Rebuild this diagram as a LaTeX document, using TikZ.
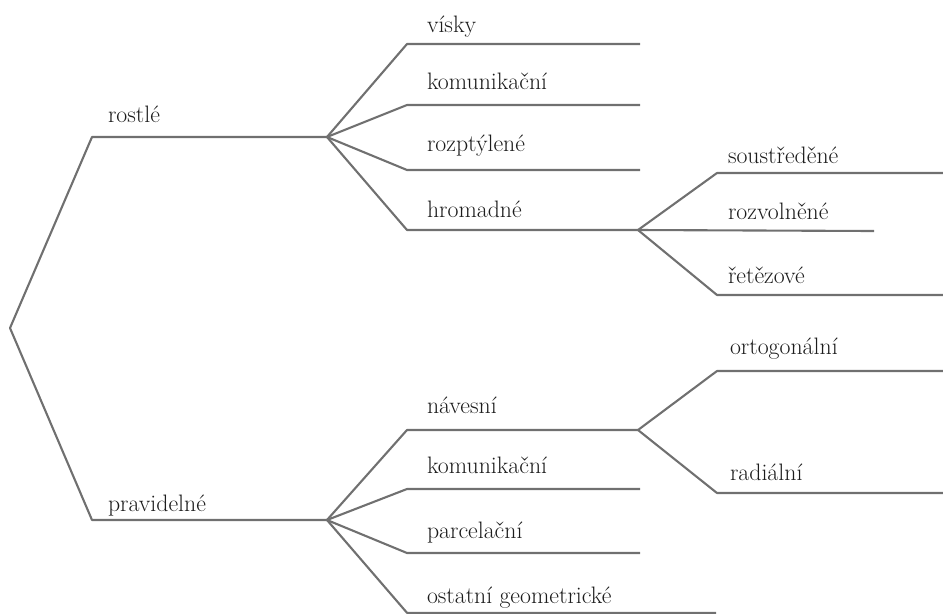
\documentclass[tikz,border=0pt]{standalone}
\usepackage{fontspec}
\definecolor{linegray}{HTML}{707070}
\definecolor{textdark}{HTML}{1C1C1C}
\tikzset{
  branch/.style={draw=linegray, line width=2.1pt, line join=round, line cap=butt},
  lbl/.style={anchor=base west, inner sep=0pt, outer sep=0pt, text=textdark, font=\fontsize{23.8}{28}\selectfont}
}
\begin{document}
\begin{tikzpicture}[x=1pt,y=-1pt]
\useasboundingbox (0,0) rectangle (943,614);
% junctions and line ends
\coordinate (root) at (10,328);
\coordinate (r1) at (92,137);   \coordinate (r2) at (327,137);
\coordinate (p1) at (92,520);   \coordinate (p2) at (327,520);
\coordinate (v1) at (407,44);   \coordinate (v2) at (640,44);
\coordinate (k1) at (407,105);  \coordinate (k2) at (640,105);
\coordinate (z1) at (407,170);  \coordinate (z2) at (640,170);
\coordinate (h1) at (407,230);  \coordinate (h2) at (638,230);
\coordinate (s1) at (717,173);  \coordinate (s2) at (945,173);
\coordinate (rv) at (874,231);
\coordinate (t1) at (717,295);  \coordinate (t2) at (945,295);
\coordinate (n1) at (407,430);  \coordinate (n2) at (638,430);
\coordinate (k3) at (407,489);  \coordinate (k4) at (640,489);
\coordinate (c1) at (407,553);  \coordinate (c2) at (640,553);
\coordinate (o1) at (407,612.8);\coordinate (o2) at (716,612.8);
\coordinate (or1) at (717,371); \coordinate (or2) at (945,371);
\coordinate (ra1) at (717,493); \coordinate (ra2) at (945,493);
% connectors
\draw[branch] (r2) -- (r1) -- (root) -- (p1) -- (p2);
\draw[branch] (r2) -- (v1) -- (v2);
\draw[branch] (r2) -- (k1) -- (k2);
\draw[branch] (r2) -- (z1) -- (z2);
\draw[branch] (r2) -- (h1) -- (h2);
\draw[branch] (h2) -- (s1) -- (s2);
\draw[branch] (h2) -- (rv);
\draw[branch] (h2) -- (t1) -- (t2);
\draw[branch] (p2) -- (n1) -- (n2);
\draw[branch] (p2) -- (k3) -- (k4);
\draw[branch] (p2) -- (c1) -- (c2);
\draw[branch] (p2) -- (o1) -- (o2);
\draw[branch] (n2) -- (or1) -- (or2);
\draw[branch] (n2) -- (ra1) -- (ra2);
% labels
\node[lbl] (lrostle) at (108,122) {rostlé};
\node[lbl] (lvisky) at (427,32) {vísky};
\node[lbl] (lkom1) at (427,89) {komunikační};
\node[lbl] (lrozpt) at (427,151) {rozptýlené};
\node[lbl] (lhrom) at (427,217) {hromadné};
\node[lbl] (lsoust) at (728,163) {soustředěné};
\node[lbl] (lrozv) at (728,219) {rozvolněné};
\node[lbl] (lret) at (728,283) {řetězové};
\node[lbl] (lprav) at (108,511) {pravidelné};
\node[lbl] (lnav) at (427,413) {návesní};
\node[lbl] (lkom2) at (427,473) {komunikační};
\node[lbl] (lparc) at (427,538) {parcelační};
\node[lbl] (lost) at (427,603) {ostatní geometrické};
\node[lbl] (lort) at (730,354) {ortogonální};
\node[lbl] (lrad) at (730,480) {radiální};
\end{tikzpicture}
\end{document}
